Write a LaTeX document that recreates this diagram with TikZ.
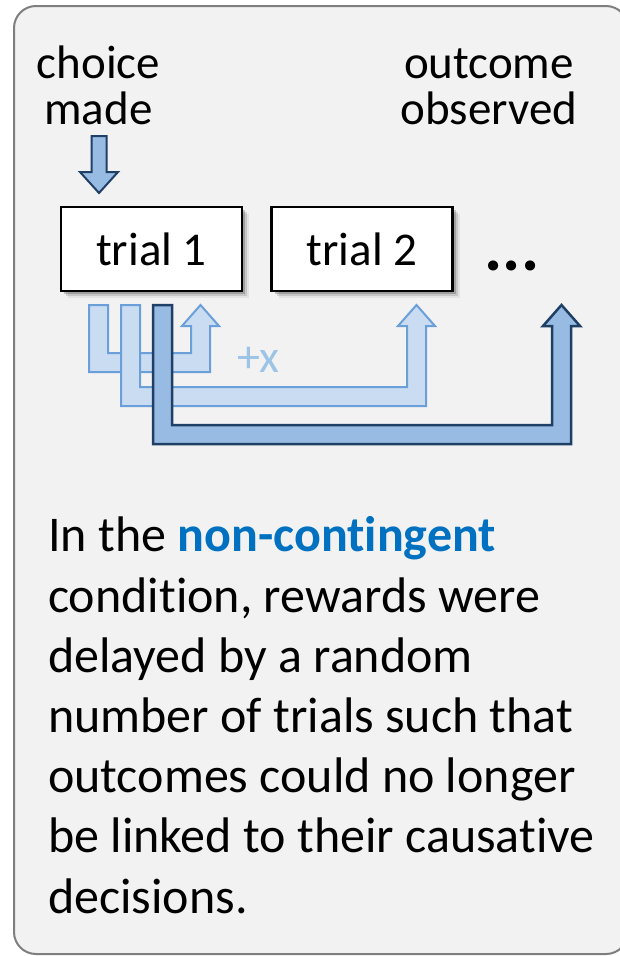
\documentclass[tikz,border=0pt]{standalone}
\usepackage{fontspec}
\setmainfont[Ligatures=NoCommon]{Carlito}
\usetikzlibrary{shadows}

\definecolor{panelfill}{HTML}{F2F2F2}
\definecolor{panelline}{HTML}{7F7F7F}
\definecolor{lightfill}{HTML}{CADCF1}
\definecolor{lightline}{HTML}{6A9FD9}
\definecolor{darkfill}{HTML}{97BBE2}
\definecolor{darkline}{HTML}{203F66}
\definecolor{plusx}{HTML}{9DC3E6}
\definecolor{keyblue}{HTML}{0070C0}

% U-shaped block arrow: #1 style, #2 left edge of the outgoing shaft,
% #3 left edge of the incoming shaft, #4 top edge of the bottom bar
\newcommand{\uarrow}[4]{%
  \draw[#1] (#2,305) -- (#2+19,305) -- (#2+19,#4) -- (#3,#4) -- (#3,326)
    -- (#3-9,326) -- (#3+9.5,305) -- (#3+28,326) -- (#3+19,326)
    -- (#3+19,#4+19) -- (#2,#4+19) -- cycle;}

\begin{document}
\begin{tikzpicture}[x=1pt,y=-1pt,
  panel/.style={draw=panelline,line width=2pt,fill=panelfill,rounded corners=22pt},
  trialbox/.style={draw=black,line width=2.5pt,fill=white,minimum width=181pt,
    minimum height=84pt,inner sep=0pt,text height=32pt,text depth=0pt,
    font=\fontsize{47}{47}\selectfont,
    drop shadow={shadow xshift=7pt,shadow yshift=-7pt,opacity=.06,fill=black},
    drop shadow={shadow xshift=5pt,shadow yshift=-5pt,opacity=.12,fill=black},
    drop shadow={shadow xshift=3pt,shadow yshift=-3pt,opacity=.2,fill=black}},
  lightarrow/.style={draw=lightline,line width=2pt,fill=lightfill,line join=miter},
  darkarrow/.style={draw=darkline,line width=2.5pt,fill=darkfill,line join=miter},
  label/.style={align=center,inner sep=0pt,font=\fontsize{47}{46}\selectfont}]
\useasboundingbox (0,0) rectangle (620,956);

% panel (its right side runs past the page edge)
\draw[panel] (14,6) rectangle (628,954);

% header labels (base anchor = baseline of the last line)
\node[label,anchor=base] (choice) at (98.5,124) {choice\\made};
\node[label,anchor=base] (outcome) at (489,124) {outcome\\observed};

% choice arrow pointing down into trial 1
\draw[darkarrow,line width=2pt] (91.5,136) -- (106.5,136) -- (106.5,172) -- (118,172)
  -- (99,193) -- (80,172) -- (91.5,172) -- cycle;

% trials
\node[trialbox] (t1) at (151.5,249) {trial 1};
\node[trialbox] (t2) at (362,249) {trial 2};
\node[anchor=base,inner sep=0pt,font=\fontsize{68}{68}\selectfont\bfseries] (dots)
  at (512,270) {...};

% delayed outcomes
\uarrow{lightarrow}{89}{191}{353}
\uarrow{lightarrow}{121}{407}{387}
\uarrow{darkarrow}{153}{552}{425}
\node[anchor=base,inner sep=0pt,text=plusx,font=\fontsize{46}{46}\selectfont] (plus)
  at (258.5,372) {+x};

% caption
\node[anchor=base west,align=left,inner sep=0pt,font=\fontsize{50}{60.2}\selectfont]
  (caption) at (48,913) {In the \textcolor{keyblue}{\bfseries non-contingent}\\
  condition, rewards were\\
  delayed by a random\\
  number of trials such that\\
  outcomes could no longer\\
  be linked to their causative\\
  decisions.};
\end{tikzpicture}
\end{document}
